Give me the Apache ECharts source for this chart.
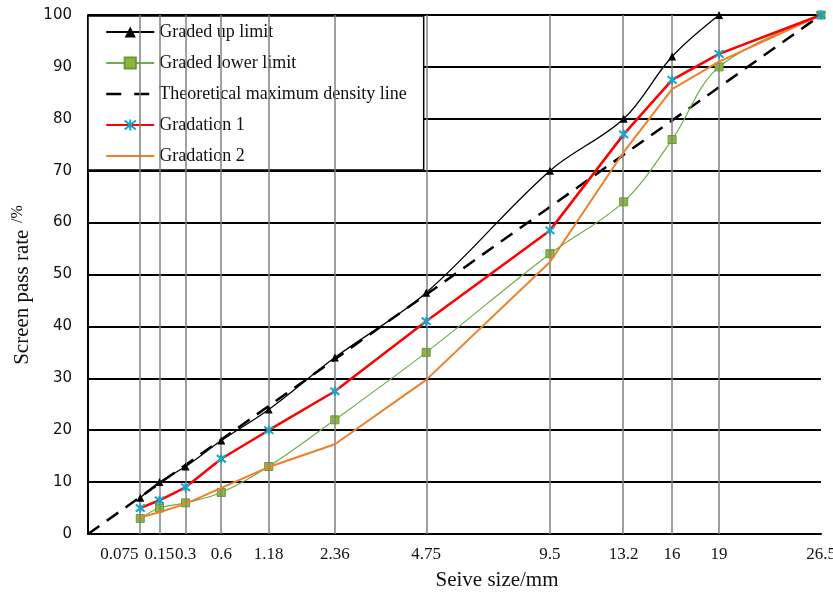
<!DOCTYPE html>
<html>
<head>
<meta charset="utf-8">
<script src="https://cdn.jsdelivr.net/npm/echarts@6/dist/echarts.min.js"></script>
<style>html,body{margin:0;padding:0;background:#fff;}#c{width:833px;height:593px;}</style>
</head>
<body>
<div id="c"></div>
<script>
// Sieve sizes (mm) and their tick labels
const sieveSizes = [0.075, 0.15, 0.3, 0.6, 1.18, 2.36, 4.75, 9.5, 13.2, 16, 19, 26.5];
const sieveLabels = ['0.075', '0.15', '0.3', '0.6', '1.18', '2.36', '4.75', '9.5', '13.2', '16', '19', '26.5'];
// Passing rates (%)
const upperSizes = [0.075, 0.15, 0.3, 0.6, 1.18, 2.36, 4.75, 9.5, 13.2, 16, 19];
const upperLimit = [7, 10, 13, 18, 24, 34, 46.5, 70, 80, 92, 100];
const lowerLimit = [3, 5, 6, 8, 13, 22, 35, 54, 64, 76, 90, 100];
const densitySizes = [0, 26.5];
const densityLine = [0, 100];
const gradation1 = [5, 6.5, 9, 14.5, 20, 27.5, 41, 58.5, 77, 87.5, 92.5, 100];
const gradation2 = [3.2, 4.2, 5.8, 8.9, 12.9, 17.3, 29.7, 52.4, 73.6, 85.7, 91, 100];

// power-0.45 gradation scale for the sieve axis
const EXP = 0.45;
const tx = d => Math.pow(d, EXP);
const pairs = (xs, ys) => ys.map((v, i) => [tx(xs[i]), v]);

const serif = '"Liberation Serif", "Times New Roman", serif';
const chart = echarts.init(document.getElementById('c'));
const tickPos = sieveSizes.map(tx);
const noSymbol = { color: 'rgba(0,0,0,0)', borderWidth: 0, borderColor: 'rgba(0,0,0,0)' };

chart.setOption({
  animation: false,
  backgroundColor: '#fff',
  grid: { left: 88, right: 12, top: 15, bottom: 59, containLabel: false, outerBoundsMode: 'none' },
  xAxis: {
    type: 'value',
    min: 0,
    max: tx(26.5),
    axisLine: { show: true, lineStyle: { color: '#000', width: 2 } },
    axisTick: { show: false },
    splitLine: { show: false },
    axisLabel: {
      customValues: tickPos,
      margin: 12,
      color: '#111',
      fontFamily: serif,
      fontSize: 17,
      hideOverlap: false,
      formatter: function (v) {
        let best = 0, bd = Infinity;
        tickPos.forEach((p, i) => { const d = Math.abs(p - v); if (d < bd) { bd = d; best = i; } });
        return best === 0 ? '{a|' + sieveLabels[0] + '}' : sieveLabels[best];
      },
      rich: { a: { fontFamily: serif, fontSize: 17, color: '#111', padding: [0, 42, 0, 0] } }
    }
  },
  yAxis: {
    type: 'value',
    min: 0, max: 100, interval: 10,
    axisLine: { show: true, lineStyle: { color: '#000', width: 2 } },
    axisTick: { show: false },
    splitLine: { show: true, lineStyle: { color: '#000', width: 2 } },
    axisLabel: { margin: 16, color: '#111', fontFamily: '"DejaVu Sans", Verdana, sans-serif', fontSize: 15 }
  },
  legend: {
    left: 88, top: 16,
    orient: 'vertical',
    backgroundColor: '#fff',
    borderColor: '#000',
    borderWidth: 1.5,
    borderRadius: 0,
    padding: [7, 17, 5, 17],
    itemWidth: 48,
    itemHeight: 14,
    itemGap: 13,
    textStyle: { fontFamily: serif, fontSize: 18, color: '#111', lineHeight: 18 },
    data: [
      'Graded up limit',
      'Graded lower limit',
      { name: 'Theoretical maximum density line', itemStyle: noSymbol, lineStyle: { type: [15, 13], width: 2.5 } },
      'Gradation 1',
      { name: 'Gradation 2', itemStyle: noSymbol }
    ]
  },
  graphic: [
    {
      type: 'text', x: 22, y: 285, rotation: Math.PI / 2,
      style: {
        text: '{m|Screen pass rate}  {s|/%}',
        align: 'center', verticalAlign: 'middle',
        rich: {
          m: { fontFamily: serif, fontSize: 21, fill: '#111' },
          s: { fontFamily: serif, fontSize: 16, fill: '#111', padding: [0, 0, 8, 0] }
        }
      }
    },
    {
      type: 'text', x: 497, y: 580,
      style: { text: 'Seive size/mm', align: 'center', verticalAlign: 'middle', fontFamily: serif, fontSize: 21, fill: '#111' }
    }
  ],
  series: [
    {
      name: 'sieve lines', type: 'line', data: [], z: 1, silent: true,
      markLine: {
        silent: true, symbol: 'none', label: { show: false },
        lineStyle: { color: '#808080', width: 1.5, type: 'solid' },
        data: tickPos.map(p => ({ xAxis: p }))
      }
    },
    {
      name: 'Graded up limit', type: 'line', smooth: 0.35, z: 5,
      data: pairs(upperSizes, upperLimit),
      symbol: 'triangle', symbolSize: 8,
      lineStyle: { color: '#000', width: 1.3 },
      itemStyle: { color: '#000' }
    },
    {
      name: 'Graded lower limit', type: 'line', smooth: 0.35, z: 4,
      data: pairs(sieveSizes, lowerLimit),
      symbol: 'rect', symbolSize: 8,
      lineStyle: { color: '#70AD47', width: 1.2 },
      itemStyle: { color: '#8DB640', borderColor: '#6A9A30', borderWidth: 1 }
    },
    {
      name: 'Theoretical maximum density line', type: 'line', z: 3,
      data: pairs(densitySizes, densityLine),
      symbol: 'none',
      lineStyle: { color: '#000', width: 2.5, type: [14, 9] },
      itemStyle: { color: '#000' }
    },
    {
      name: 'Gradation 1', type: 'line', z: 6,
      data: pairs(sieveSizes, gradation1),
      symbol: 'path://M0,1L10,9M10,1L0,9M5,0L5,10', symbolSize: 9,
      lineStyle: { color: '#FF0000', width: 2.5 },
      itemStyle: { color: '#1BA3C6', borderColor: '#1BA3C6', borderWidth: 2 }
    },
    {
      name: 'Gradation 2', type: 'line', z: 5,
      data: pairs(sieveSizes, gradation2),
      symbol: 'none',
      lineStyle: { color: '#F07F2A', width: 2 },
      itemStyle: { color: '#F07F2A' }
    }
  ]
});
</script>
</body>
</html>
